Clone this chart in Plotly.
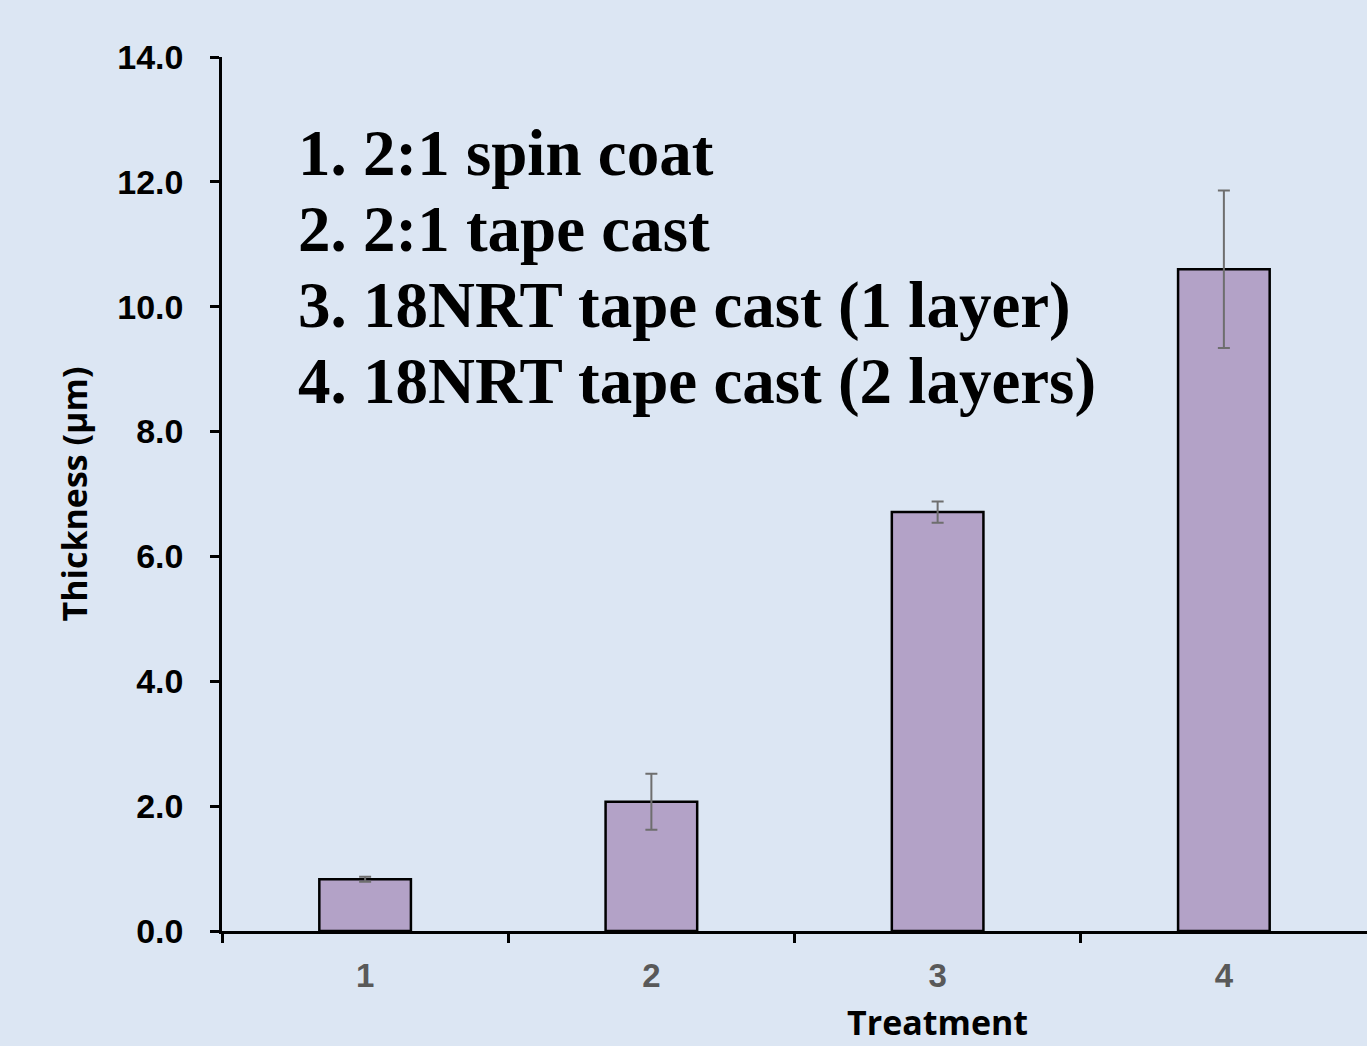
import plotly.graph_objects as go

categories = [1, 2, 3, 4]
tick_labels = ["1", "2", "3", "4"]
thickness = [0.83, 2.07, 6.71, 10.60]
errors = [0.04, 0.45, 0.17, 1.26]
y_ticks = [0, 2, 4, 6, 8, 10, 12, 14]
y_tick_labels = ["0.0", "2.0", "4.0", "6.0", "8.0", "10.0", "12.0", "14.0"]
legend_lines = [
    "1. 2:1 spin coat",
    "2. 2:1 tape cast",
    "3. 18NRT tape cast (1 layer)",
    "4. 18NRT tape cast (2 layers)",
]

BG = "rgb(220,230,243)"

fig = go.Figure()
fig.add_trace(go.Bar(
    x=categories, y=thickness, width=0.32,
    marker=dict(color="#B3A2C7", line=dict(color="black", width=2.5)),
    error_y=dict(type="data", array=errors, visible=True,
                 color="#6E6E6E", thickness=2, width=6),
    showlegend=False,
))

fig.update_layout(
    width=1367, height=1046,
    paper_bgcolor=BG, plot_bgcolor=BG,
    margin=dict(l=222, r=0, t=57, b=115),
    xaxis=dict(
        range=[0.5, 4.5], tickvals=categories, ticktext=tick_labels,
        showgrid=False, zeroline=False,
        showline=True, linecolor="black", linewidth=2.5,
        ticks="outside", ticklen=14, tickcolor="rgba(0,0,0,0)",
        tickfont=dict(family="Liberation Sans", size=33, color="#595959", weight="bold"),
        minor=dict(tickvals=[0.5, 1.5, 2.5, 3.5], ticks="outside", ticklen=9,
                   tickcolor="black", tickwidth=2.5, showgrid=False),
    ),
    yaxis=dict(
        range=[0, 14], tickvals=y_ticks, ticktext=y_tick_labels,
        showgrid=False, zeroline=False,
        showline=True, linecolor="black", linewidth=2.5,
        ticks="outside", ticklen=9, tickwidth=2.5, tickcolor="black",
        ticklabelstandoff=20,
        tickfont=dict(family="Liberation Sans", size=34, color="black", weight="bold"),
        title=dict(text="Thickness (µm)", standoff=20,
                   font=dict(family="Open Sans", size=34, color="black", weight="bold")),
    ),
)

# x-axis title (positioned as in the source, under category 3)
fig.add_annotation(
    x=3, xref="x", y=1 - (1022 - 57) / 874, yref="paper",
    text="Treatment", showarrow=False,
    font=dict(family="Open Sans", size=34, color="black", weight="bold"),
    xanchor="center", yanchor="middle",
)

baselines = [175, 251, 327, 403]
for line, base in zip(legend_lines, baselines):
    fig.add_annotation(
        x=(296 - 222) / 1145, xref="paper",
        y=1 - (base + 16 - 57) / 874, yref="paper",
        text=line, showarrow=False, xanchor="left", yanchor="bottom",
        font=dict(family="Liberation Serif", size=65, color="black", weight="bold"),
    )

fig.write_html("out.html", config={"displayModeBar": False},
               post_script="document.body.style.margin='0';")
